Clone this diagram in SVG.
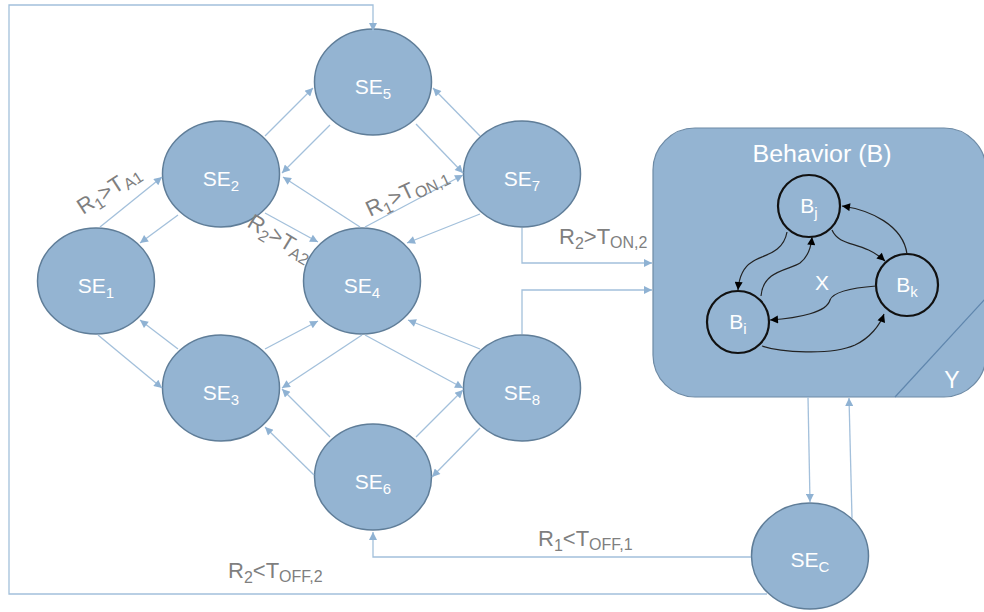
<svg xmlns="http://www.w3.org/2000/svg" width="984" height="612" viewBox="0 0 984 612">
<style>
.n{fill:#94b4d2;stroke:#5f7d98;stroke-width:1.5}
.nt{font-family:"Liberation Sans",Arial,sans-serif;font-size:21px;fill:#ffffff;text-anchor:middle}
.sub{font-size:15px}
.c{fill:none;stroke:#a3c0db;stroke-width:1.3;marker-end:url(#a)}
.lb{font-family:"Liberation Sans",Arial,sans-serif;font-size:22px;fill:#7f7f7f}
.ls{font-size:16px}
.bc{fill:none;stroke:#111111;stroke-width:2.2}
.bl{fill:none;stroke:#222222;stroke-width:1.2;marker-end:url(#b)}
</style>
<defs>
<marker id="a" viewBox="0 0 10 10" refX="10" refY="5" markerWidth="11" markerHeight="8" markerUnits="userSpaceOnUse" orient="auto"><path d="M0,0 L10,5 L0,10 z" fill="#8fb2d3"/></marker>
<marker id="b" viewBox="0 0 10 10" refX="10" refY="5" markerWidth="10" markerHeight="8" markerUnits="userSpaceOnUse" orient="auto"><path d="M0,0 L10,5 L0,10 z" fill="#000000"/></marker>
</defs>
<rect width="984" height="612" fill="#ffffff"/>

<g id="behavior">
<rect x="653" y="128" width="333" height="269" rx="42" fill="#94b4d2" stroke="#6d8aa5" stroke-width="1.2"/>
<line x1="895" y1="397" x2="986" y2="298" stroke="#5f86ad" stroke-width="1.2"/>
<text x="822" y="162" class="nt" style="font-size:23px" textLength="139" lengthAdjust="spacingAndGlyphs">Behavior (B)</text>
<text x="952" y="388" class="nt" style="font-size:23px">Y</text>
<text x="822" y="290" class="nt">X</text>
</g>
<g id="Bj"><circle cx="809" cy="206" r="31" class="bc"/><text x="809" y="213" class="nt">B<tspan class="sub" dy="5">j</tspan></text></g>
<g id="Bi"><circle cx="738" cy="322" r="31" class="bc"/><text x="738" y="329" class="nt">B<tspan class="sub" dy="5">i</tspan></text></g>
<g id="Bk"><circle cx="907" cy="285" r="31" class="bc"/><text x="907" y="292" class="nt">B<tspan class="sub" dy="5">k</tspan></text></g>
<g id="behavior-links">
<path class="bl" d="M787,232 C783,255 760,255 752,262 C742,268 739,278 738,290"/>
<path class="bl" d="M761,296 C763,270 790,270 800,263 C808,257 811,248 812,237"/>
<path class="bl" d="M832,230 C840,248 862,240 885,261"/>
<path class="bl" d="M907,254 C903,225 870,210 842,206"/>
<path class="bl" d="M876,286 C850,288 833,292 830,300 C827,312 800,318 770,320"/>
<path class="bl" d="M762,346 C780,352 830,356 855,345 C870,338 880,325 884,314"/>
</g>

<g id="SE5"><ellipse cx="373" cy="82" rx="58.5" ry="53" class="n"/><text x="373" y="94" class="nt">SE<tspan class="sub" dy="5">5</tspan></text></g>
<g id="SE2"><ellipse cx="221" cy="174" rx="58.5" ry="53" class="n"/><text x="221" y="186" class="nt">SE<tspan class="sub" dy="5">2</tspan></text></g>
<g id="SE7"><ellipse cx="522" cy="174" rx="58.5" ry="53" class="n"/><text x="522" y="186" class="nt">SE<tspan class="sub" dy="5">7</tspan></text></g>
<g id="SE1"><ellipse cx="96" cy="281" rx="58.5" ry="53" class="n"/><text x="96" y="293" class="nt">SE<tspan class="sub" dy="5">1</tspan></text></g>
<g id="SE4"><ellipse cx="362" cy="281" rx="58.5" ry="53" class="n"/><text x="362" y="293" class="nt">SE<tspan class="sub" dy="5">4</tspan></text></g>
<g id="SE3"><ellipse cx="221" cy="388" rx="58.5" ry="53" class="n"/><text x="221" y="400" class="nt">SE<tspan class="sub" dy="5">3</tspan></text></g>
<g id="SE8"><ellipse cx="522" cy="388" rx="58.5" ry="53" class="n"/><text x="522" y="400" class="nt">SE<tspan class="sub" dy="5">8</tspan></text></g>
<g id="SE6"><ellipse cx="373" cy="477" rx="58.5" ry="53" class="n"/><text x="373" y="489" class="nt">SE<tspan class="sub" dy="5">6</tspan></text></g>
<g id="SEC"><ellipse cx="810" cy="556" rx="58.5" ry="53" class="n"/><text x="810" y="567" class="nt">SE<tspan class="sub" dy="5">C</tspan></text></g>

<g id="connectors">
<path class="c" d="M767,594 L9,594 L9,5 L373,5 L373,31"/>
<path class="c" d="M751,557 L373,557 L373,532"/>
<path class="c" d="M808,397 L810,502"/>
<path class="c" d="M852,518 L849,398"/>
<path class="c" d="M522,228 L522,263 L652,263"/>
<path class="c" d="M522,334 L522,290 L652,290"/>

<path class="c" d="M100,227 L162,177"/>
<path class="c" d="M178,215 L140,243"/>
<path class="c" d="M265,136 L313,88"/>
<path class="c" d="M330,125 L282,173"/>
<path class="c" d="M416,124 L463,173"/>
<path class="c" d="M480,136 L433,88"/>
<path class="c" d="M265,213 L318,242"/>
<path class="c" d="M360,227 L283,177"/>
<path class="c" d="M365,227 L463,175"/>
<path class="c" d="M480,214 L407,243"/>

<path class="c" d="M178,349 L140,320"/>
<path class="c" d="M98,335 L162,388"/>
<path class="c" d="M265,349 L318,321"/>
<path class="c" d="M362,335 L282,388"/>
<path class="c" d="M365,335 L463,388"/>
<path class="c" d="M480,349 L408,320"/>
<path class="c" d="M330,437 L282,389"/>
<path class="c" d="M314,475 L265,427"/>
<path class="c" d="M416,437 L463,390"/>
<path class="c" d="M480,428 L432,477"/>
</g>

<g id="labels">
<text class="lb" transform="translate(83,215) rotate(-33)">R<tspan class="ls" dy="5">1</tspan><tspan dy="-5">&gt;T</tspan><tspan class="ls" dy="4">A1</tspan></text>
<text class="lb" transform="translate(246,226) rotate(31)">R<tspan class="ls" dy="5">2</tspan><tspan dy="-5">&gt;T</tspan><tspan class="ls" dy="4">A2</tspan></text>
<text class="lb" transform="translate(370,217) rotate(-25)">R<tspan class="ls" dy="5">1</tspan><tspan dy="-5">&gt;T</tspan><tspan class="ls" dy="4">ON,1</tspan></text>
<text class="lb" x="559" y="244">R<tspan class="ls" dy="5">2</tspan><tspan dy="-5">&gt;T</tspan><tspan class="ls" dy="4">ON,2</tspan></text>
<text class="lb" x="538" y="546">R<tspan class="ls" dy="5">1</tspan><tspan dy="-5">&lt;T</tspan><tspan class="ls" dy="4">OFF,1</tspan></text>
<text class="lb" x="228" y="578">R<tspan class="ls" dy="5">2</tspan><tspan dy="-5">&lt;T</tspan><tspan class="ls" dy="4">OFF,2</tspan></text>
</g>
</svg>
